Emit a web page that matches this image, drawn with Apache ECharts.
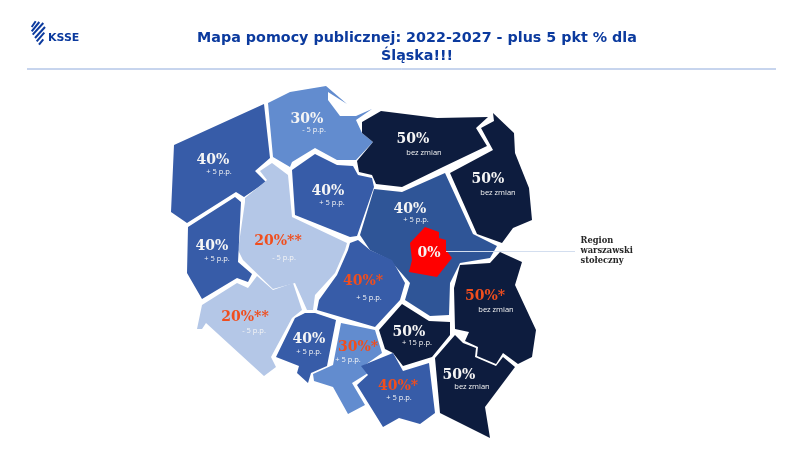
<!DOCTYPE html>
<html>
<head>
<meta charset="utf-8">
<script src="https://cdn.jsdelivr.net/npm/echarts@6/dist/echarts.min.js"></script>
<style>
html, body { margin: 0; padding: 0; background: #fff; }
#container { width: 800px; height: 450px; }
</style>
</head>
<body>
<div id="container"></div>
<script>
var titleText = 'Mapa pomocy publicznej: 2022-2027 - plus 5 pkt % dla\nŚląska!!!';
var calloutText = 'Region\nwarszawski\nstołeczny';

var regionNames = ['zachodniopomorskie', 'pomorskie', 'kujawsko-pomorskie', 'warmińsko-mazurskie', 'podlaskie',
    'mazowieckie', 'warszawski', 'wielkopolskie', 'lubuskie', 'łódzkie', 'dolnośląskie', 'opolskie', 'śląskie',
    'świętokrzyskie', 'małopolskie', 'lubelskie', 'podkarpackie'];
var regionRates = ['40%', '30%', '40%', '50%', '50%', '40%', '0%', '20%**', '40%', '40%*', '20%**', '40%', '30%*',
    '50%', '40%*', '50%*', '50%'];
var regionChanges = ['+ 5 p.p.', '- 5 p.p.', '+ 5 p.p.', 'bez zmian', 'bez zmian', '+ 5 p.p.', '', '- 5 p.p.', '+ 5 p.p.',
    '+ 5 p.p.', '- 5 p.p.', '+ 5 p.p.', '+ 5 p.p.', '+ 15 p.p.', '+ 5 p.p.', 'bez zmian', 'bez zmian'];
var regionColors = ['#375ca8', '#628ccf', '#375ca8', '#0d1c3e', '#0d1c3e', '#2f5597', '#ff0000', '#b4c7e7', '#375ca8',
    '#375ca8', '#b4c7e7', '#375ca8', '#628ccf', '#0d1c3e', '#375ca8', '#0d1c3e', '#0d1c3e'];

// outlines, in page pixels
var regionOutlines = [
    [[174,145],[264,104],[270,158],[255,171],[266,182],[244,197],[236,192],[187,223],[171,212]],
    [[268,103],[290,92],[326,86],[347,104],[328,92],[328,100],[340,116],[356,116],[372,109],[356,120],[362,133],[373,142],[356,160],[337,160],[315,148],[292,162],[290,167],[273,157]],
    [[292,170],[315,154],[337,165],[353,166],[358,175],[372,178],[374,187],[357,236],[350,237],[295,215]],
    [[362,122],[381,111],[437,118],[488,117],[476,128],[487,146],[443,167],[402,187],[376,184],[372,175],[359,172],[357,161],[373,142],[362,133]],
    [[493,113],[514,133],[515,153],[529,188],[532,220],[513,228],[502,243],[477,234],[450,173],[493,150],[481,128],[494,121]],
    [[445,173],[473,234],[497,246],[490,258],[460,263],[450,283],[449,315],[430,316],[405,300],[410,283],[390,260],[370,250],[360,235],[374,189],[402,192]],
    [[410,243],[425,227],[439,232],[439,238],[446,240],[446,250],[452,258],[437,277],[409,272],[412,260]],
    [[245,202],[245,198],[267,180],[260,171],[272,163],[288,175],[292,217],[347,243],[345,250],[335,273],[315,295],[313,310],[307,310],[295,283],[273,289],[243,260],[238,250]],
    [[188,227],[235,197],[241,202],[238,262],[252,274],[248,282],[237,278],[202,299],[187,273]],
    [[319,300],[337,275],[348,250],[350,243],[358,240],[370,250],[392,260],[405,283],[400,300],[375,327],[317,310]],
    [[257,276],[273,290],[293,283],[302,310],[292,318],[271,357],[276,367],[264,376],[206,323],[202,329],[197,329],[202,305],[237,283],[248,288]],
    [[305,313],[315,313],[336,320],[327,366],[311,373],[308,383],[297,373],[299,366],[276,357],[295,318]],
    [[341,323],[375,330],[382,353],[365,365],[368,373],[352,383],[365,405],[348,414],[333,387],[314,381],[313,374],[333,365]],
    [[402,304],[429,321],[450,322],[450,335],[432,357],[403,366],[393,353],[385,349],[379,330]],
    [[393,353],[403,371],[429,363],[435,413],[420,424],[399,418],[383,427],[357,385],[368,375],[361,366]],
    [[460,265],[490,263],[500,252],[522,262],[515,285],[536,330],[532,357],[518,364],[503,353],[496,364],[477,356],[478,347],[465,341],[469,332],[455,329],[454,288]],
    [[455,335],[463,343],[476,348],[475,357],[496,366],[503,357],[515,367],[485,407],[490,438],[440,413],[435,358]]
];
var rateSpots = [[213,160],[307,119],[328,191],[413,139],[488,179],[410,209],[429,253],[278,241],[212,246],[363,281],
    [245,317],[309,339],[358,347],[409,332],[398,386],[485,296],[459,375]];
var changeSpots = [[219,172],[314,130],[332,203],[424,153],[498,193],[416,220],[429,253],[284,258],[217,259],[369,298],
    [254,331],[309,352],[348,360],[417,343],[399,398],[496,310],[472,387]];

var features = regionNames.map(function (name, i) {
    var ring = regionOutlines[i].concat([regionOutlines[i][0]]);
    return {
        type: 'Feature',
        properties: { name: name },
        geometry: { type: 'Polygon', coordinates: [ring] }
    };
});
echarts.registerMap('poland', { type: 'FeatureCollection', features: features });

var myChart = echarts.init(document.getElementById('container'), null, { renderer: 'canvas' });

myChart.setOption({
    animation: false,
    backgroundColor: '#fff',
    title: {
        text: titleText,
        left: 412,
        top: 24,
        textAlign: 'center',
        textStyle: { fontFamily: 'DejaVu Sans', fontWeight: 'bold', fontSize: 14.3, lineHeight: 18, color: '#0b3a9e' }
    },
    geo: {
        map: 'poland',
        silent: true,
        roam: false,
        projection: {
            project: function (p) { return p; },
            unproject: function (p) { return p; }
        },
        boundingCoords: [[0, 0], [800, 450]],
        left: 0,
        top: 0,
        width: 800,
        height: 450,
        label: { show: false },
        itemStyle: { borderWidth: 0 },
        regions: regionNames.map(function (name, i) {
            return { name: name, itemStyle: { areaColor: regionColors[i] } };
        })
    },
    series: [
        {
            type: 'lines',
            coordinateSystem: 'geo',
            silent: true,
            symbol: 'none',
            z: 5,
            lineStyle: { color: '#d3deef', width: 1, opacity: 1, curveness: 0 },
            data: [{ coords: [[446, 251], [575, 251]] }]
        },
        {
            type: 'scatter',
            coordinateSystem: 'geo',
            silent: true,
            symbolSize: 1,
            itemStyle: { color: 'transparent', opacity: 1 },
            z: 6,
            data: regionRates.map(function (rate, i) {
                return {
                    value: rateSpots[i],
                    label: {
                        show: true,
                        position: 'inside',
                        formatter: rate,
                        color: rate.indexOf('*') >= 0 ? '#f04e1e' : '#f5f5f5',
                        fontFamily: 'DejaVu Serif',
                        fontWeight: 'bold',
                        fontSize: 14
                    }
                };
            })
        },
        {
            type: 'scatter',
            coordinateSystem: 'geo',
            silent: true,
            symbolSize: 1,
            itemStyle: { color: 'transparent', opacity: 1 },
            z: 6,
            data: regionChanges.map(function (change, i) {
                return {
                    value: changeSpots[i],
                    label: {
                        show: change !== '',
                        position: 'inside',
                        formatter: change,
                        color: '#f5f5f5',
                        fontFamily: 'Open Sans',
                        fontSize: 7.5
                    }
                };
            })
        },
        {
            type: 'scatter',
            coordinateSystem: 'geo',
            silent: true,
            symbolSize: 1,
            itemStyle: { color: 'transparent', opacity: 1 },
            z: 6,
            data: [{
                value: [580, 251],
                label: {
                    show: true,
                    position: 'right',
                    distance: 0,
                    align: 'left',
                    formatter: calloutText,
                    color: '#262626',
                    fontFamily: 'DejaVu Serif',
                    fontWeight: 'bold',
                    fontSize: 8.3,
                    lineHeight: 10
                }
            }]
        }
    ],
    graphic: [
        { type: 'line', silent: true, shape: { x1: 27, y1: 69, x2: 776, y2: 69 }, style: { stroke: '#8faadc', lineWidth: 1 } },
        { type: 'text', silent: true, style: { x: 48, y: 32.5, text: 'KSSE', fill: '#0b3a9e', font: 'bold 11px "DejaVu Sans"' } },
        { type: 'line', silent: true, shape: { x1: 31.7, y1: 27, x2: 35.7, y2: 21.3 }, style: { stroke: '#0b3a9e', lineWidth: 2 } },
        { type: 'line', silent: true, shape: { x1: 31.7, y1: 31.3, x2: 39.3, y2: 22 }, style: { stroke: '#0b3a9e', lineWidth: 2 } },
        { type: 'line', silent: true, shape: { x1: 32.7, y1: 34.7, x2: 43.3, y2: 23 }, style: { stroke: '#0b3a9e', lineWidth: 2 } },
        { type: 'line', silent: true, shape: { x1: 35, y1: 38, x2: 45, y2: 27 }, style: { stroke: '#0b3a9e', lineWidth: 2 } },
        { type: 'line', silent: true, shape: { x1: 36.7, y1: 41.3, x2: 44.3, y2: 32.7 }, style: { stroke: '#0b3a9e', lineWidth: 2 } },
        { type: 'line', silent: true, shape: { x1: 39, y1: 44.7, x2: 43.3, y2: 39.3 }, style: { stroke: '#0b3a9e', lineWidth: 2 } }
    ]
});
</script>
</body>
</html>
